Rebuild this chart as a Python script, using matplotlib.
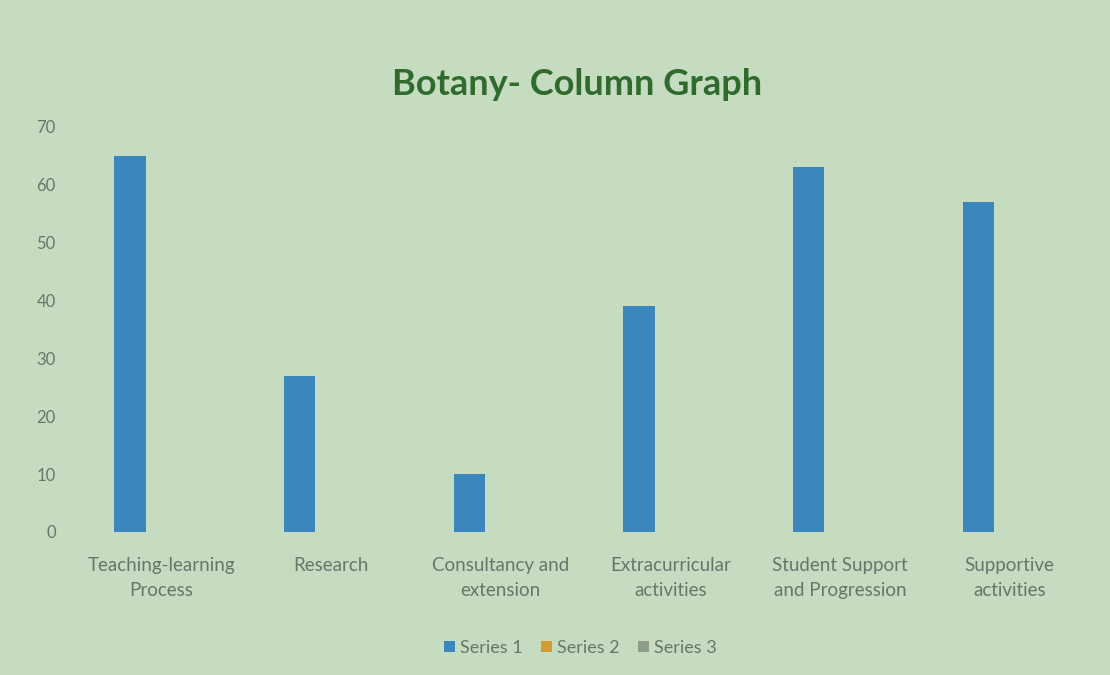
import numpy as np
import matplotlib
matplotlib.use('agg')
import matplotlib.pyplot as plt

plt.rcParams['font.family'] = ['Lato', 'DejaVu Sans']

categories = ['Teaching-learning\nProcess', 'Research', 'Consultancy and\nextension',
              'Extracurricular\nactivities', 'Student Support\nand Progression', 'Supportive\nactivities']
series1 = [65, 27, 10, 39, 63, 57]
series2 = [0, 0, 0, 0, 0, 0]
series3 = [0, 0, 0, 0, 0, 0]
series_names = ['Series 1', 'Series 2', 'Series 3']
colors = ['#3b87bd', '#d69a2d', '#8d9c8b']

bg = '#c6dcc1'
text_col = '#66776a'

fig = plt.figure(figsize=(11.1, 6.75), dpi=100, facecolor=bg)
ax = fig.add_axes([0.069, 0.212, 0.917, 0.6])
ax.set_facecolor(bg)

x = np.arange(len(categories))
w = 0.185
for i, (vals, name, c) in enumerate(zip([series1, series2, series3], series_names, colors)):
    ax.bar(x + (i - 1) * w, vals, width=w, color=c, label=name)

ax.set_ylim(0, 70)
ax.set_yticks(range(0, 71, 10))
ax.set_xlim(-0.5, len(categories) - 0.5)
ax.set_xticks(x)
ax.set_xticklabels(categories, fontsize=13.5, color=text_col, linespacing=1.55)
ax.tick_params(axis='y', labelsize=12, colors=text_col, length=0, pad=15)
ax.tick_params(axis='x', length=0, pad=18)
for s in ax.spines.values():
    s.set_visible(False)

fig.text(0.52, 0.875, 'Botany- Column Graph', ha='center', va='center',
         fontsize=26, fontweight='bold', color='#2f6b2c')

leg = fig.legend(loc='center', bbox_to_anchor=(0.523, 0.04), ncol=3, frameon=False,
                 fontsize=13, handlelength=0.6, handleheight=0.6, handletextpad=0.3,
                 columnspacing=1.0)
for t in leg.get_texts():
    t.set_color(text_col)

plt.savefig('out.png', dpi=100, facecolor=bg)
